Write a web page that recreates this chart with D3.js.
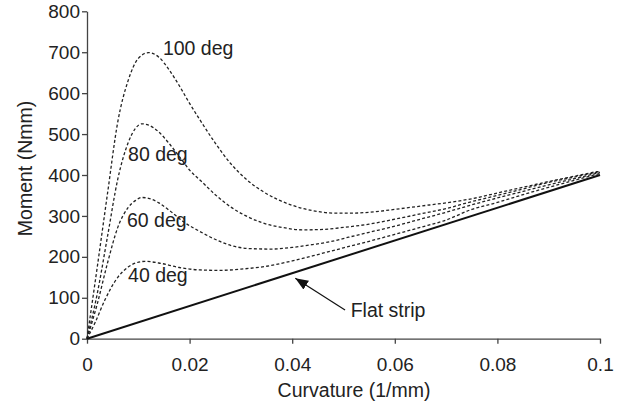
<!DOCTYPE html>
<html>
<head>
<meta charset="utf-8">
<script src="https://cdn.jsdelivr.net/npm/d3@7"></script>
<style>
  body { margin: 0; background: #fff; }
  svg text { font-family: "Liberation Sans", Arial, sans-serif; fill: #222; }
</style>
</head>
<body>
<div id="chart"></div>
<script>
// curvature (1/mm) vs moment (Nmm)
var deg100 = [[0,0],[0.002,175],[0.004,355],[0.006,530],[0.008,630],[0.010,685],[0.012,699],[0.014,688],
    [0.016,657],[0.018,618],[0.020,575],[0.022,535],[0.025,478],[0.028,428],[0.031,390],[0.034,362],
    [0.037,341],[0.040,326],[0.044,313],[0.048,307],[0.052,307],[0.056,310],[0.060,316],[0.065,324],
    [0.070,332],[0.075,342],[0.080,356],[0.085,370],[0.090,384],[0.095,397],[0.100,410]];
var deg80 = [[0,0],[0.002,110],[0.004,250],[0.006,390],[0.008,478],[0.0095,515],[0.0107,525],[0.012,522],
    [0.014,505],[0.016,477],[0.018,445],[0.020,412],[0.0225,382],[0.025,352],[0.028,322],[0.031,300],
    [0.034,284],[0.038,272],[0.042,266],[0.046,267],[0.050,272],[0.055,280],[0.060,292],[0.065,305],
    [0.070,318],[0.075,335],[0.080,350],[0.085,366],[0.090,382],[0.095,395],[0.100,408]];
var deg60 = [[0,0],[0.002,85],[0.004,185],[0.006,272],[0.008,320],[0.0095,338],[0.0107,345],[0.012,343],
    [0.014,332],[0.016,314],[0.019,284],[0.022,262],[0.0246,245],[0.028,228],[0.032,220],[0.036,219],
    [0.040,223],[0.044,230],[0.0474,237],[0.051,248],[0.055,260],[0.060,275],[0.065,292],[0.070,309],
    [0.075,327],[0.080,344],[0.085,360],[0.090,376],[0.095,391],[0.100,406]];
var deg40 = [[0,0],[0.0016,40],[0.0035,95],[0.006,150],[0.008,175],[0.0095,185],[0.0113,189],[0.014,185],
    [0.018,174],[0.022,168],[0.026,167],[0.030,170],[0.035,177],[0.040,190],[0.0454,207],[0.050,222],
    [0.055,238],[0.060,255],[0.065,272],[0.070,290],[0.075,316],[0.080,333],[0.085,352],[0.090,370],
    [0.095,387],[0.100,404]];
var flat = [[0,0],[0.1,400]];

var dashed = [deg100, deg80, deg60, deg40];
var labelText = ["100 deg", "80 deg", "60 deg", "40 deg"];
var labelAt = [[0.0148, 694], [0.008, 434], [0.0078, 273], [0.008, 139]];
var xTicks = [0, 0.02, 0.04, 0.06, 0.08, 0.1];
var yTicks = [0, 100, 200, 300, 400, 500, 600, 700, 800];
var arrowText = "Flat strip";
var arrowTail = [0.0503, 70], arrowTip = [0.0406, 148], arrowTextAt = [0.0514, 54];

var W = 631, H = 407;
var margin = {top: 11.3, right: 31, bottom: 68.3, left: 87};
var width = W - margin.left - margin.right,
    height = H - margin.top - margin.bottom;

var svg = d3.select("#chart").append("svg")
    .attr("width", W)
    .attr("height", H);

var g = svg.append("g")
    .attr("transform", "translate(" + margin.left + "," + margin.top + ")");

var x = d3.scaleLinear().domain([0, 0.1]).range([0, width]);
var y = d3.scaleLinear().domain([0, 800]).range([height, 0]);

var xAxis = g.append("g")
    .attr("transform", "translate(0," + height + ")")
    .call(d3.axisBottom(x).tickValues(xTicks).tickSize(5).tickSizeOuter(0)
        .tickFormat(function(d) { return d === 0 ? "0" : d3.format(".2~f")(d); }));

var yAxis = g.append("g")
    .call(d3.axisLeft(y).tickValues(yTicks).tickSize(5).tickSizeOuter(0).tickPadding(2));

[xAxis, yAxis].forEach(function(a) {
    a.selectAll("path, line").attr("stroke", "#444").attr("stroke-width", 1.3);
    a.selectAll("text").style("font-size", "19px").attr("fill", "#222");
});
xAxis.selectAll("text").attr("y", 19);

var line = d3.line()
    .x(function(d) { return x(d[0]); })
    .y(function(d) { return y(d[1]); })
    .curve(d3.curveMonotoneX);

g.selectAll(".dash").data(dashed).enter()
    .append("path")
    .attr("class", "dash")
    .attr("d", line)
    .attr("fill", "none")
    .attr("stroke", "#222")
    .attr("stroke-width", 1.3)
    .attr("stroke-dasharray", "3,2.2");

g.append("path")
    .datum(flat)
    .attr("d", line)
    .attr("fill", "none")
    .attr("stroke", "#111")
    .attr("stroke-width", 2);

g.selectAll(".lbl").data(labelText).enter()
    .append("text")
    .attr("class", "lbl")
    .attr("x", function(d, i) { return x(labelAt[i][0]); })
    .attr("y", function(d, i) { return y(labelAt[i][1]); })
    .style("font-size", "19.5px")
    .text(function(d) { return d; });

// arrow to the flat strip line
svg.append("defs").append("marker")
    .attr("id", "head")
    .attr("viewBox", "0 0 10 10")
    .attr("refX", 10).attr("refY", 5)
    .attr("markerWidth", 13).attr("markerHeight", 13)
    .attr("markerUnits", "userSpaceOnUse")
    .attr("orient", "auto")
    .append("path")
    .attr("d", "M0,1 L10,5 L0,9 Z")
    .attr("fill", "#111");

g.append("line")
    .attr("x1", x(arrowTail[0])).attr("y1", y(arrowTail[1]))
    .attr("x2", x(arrowTip[0])).attr("y2", y(arrowTip[1]))
    .attr("stroke", "#111")
    .attr("stroke-width", 1.2)
    .attr("marker-end", "url(#head)");

g.append("text")
    .attr("x", x(arrowTextAt[0]))
    .attr("y", y(arrowTextAt[1]))
    .style("font-size", "19.5px")
    .text(arrowText);

// axis titles
svg.append("text")
    .attr("x", 354)
    .attr("y", 397)
    .attr("text-anchor", "middle")
    .style("font-size", "19.5px")
    .text("Curvature (1/mm)");

svg.append("text")
    .attr("transform", "translate(32,168.5) rotate(-90)")
    .attr("text-anchor", "middle")
    .style("font-size", "19.5px")
    .text("Moment (Nmm)");
</script>
</body>
</html>
